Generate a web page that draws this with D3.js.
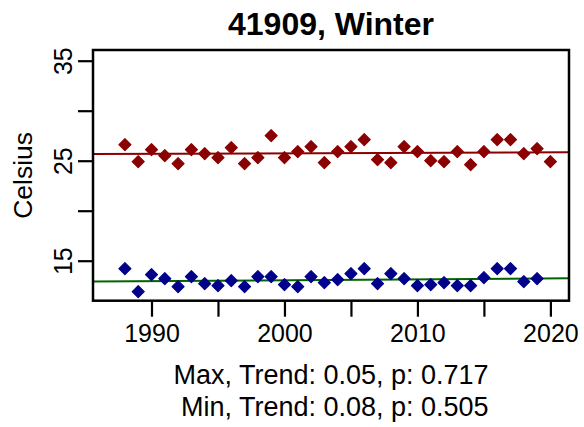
<!DOCTYPE html>
<html>
<head>
<meta charset="utf-8">
<script src="https://cdn.jsdelivr.net/npm/d3@7"></script>
<style>
  body { margin: 0; background: #fff; }
  text { font-family: "Liberation Sans", Arial, sans-serif; }
</style>
</head>
<body>
<svg id="chart"></svg>
<script>
const years = d3.range(1988, 2021);

// winter max temperature, 1988-2020
const maxTemp = [26.6, 24.9, 26.1, 25.5, 24.7, 26.1, 25.7, 25.3, 26.3, 24.7,
  25.3, 27.5, 25.3, 25.9, 26.4, 24.8, 25.9, 26.4, 27.1, 25.1,
  24.8, 26.4, 25.9, 25.0, 24.9, 25.9, 24.6, 25.9, 27.1, 27.1,
  25.7, 26.2, 24.9];

// winter min temperature, 1988-2019 (no 2020 value)
const minTemp = [14.2, 11.9, 13.6, 13.2, 12.4, 13.4, 12.7, 12.5, 13.0, 12.4,
  13.4, 13.4, 12.6, 12.4, 13.4, 12.8, 13.1, 13.7, 14.2, 12.7,
  13.7, 13.2, 12.5, 12.6, 12.8, 12.5, 12.5, 13.3, 14.2, 14.2,
  12.9, 13.2];

const xTicks = d3.range(1990, 2021, 5);
const xLabels = [1990, 2000, 2010, 2020];
const yTicks = [15, 20, 25, 30, 35];
const yLabels = [15, 25, 35];

const title = "41909, Winter";
const yTitle = "Celsius";
const notes = ["Max, Trend: 0.05, p: 0.717", " Min, Trend: 0.08, p: 0.505"];

const width = 584;
const height = 427;
const m = { left: 93, right: 569, top: 50, bottom: 300.7 };

const svg = d3.select('#chart')
    .attr('width', width)
    .attr('height', height);

const x = d3.scaleLinear().domain([1985.6, 2021.4]).range([m.left, m.right]);
const y = d3.scaleLinear().domain([11.0, 36.07]).range([m.bottom, m.top]);

// least squares fit for the trend lines
function fit(xs, ys) {
  const mx = d3.mean(xs), my = d3.mean(ys);
  let sxy = 0, sxx = 0;
  xs.forEach((v, i) => { sxy += (v - mx) * (ys[i] - my); sxx += (v - mx) * (v - mx); });
  const b = sxy / sxx;
  return t => my + b * (t - mx);
}

svg.append('clipPath').attr('id', 'clip')
  .append('rect')
    .attr('x', m.left).attr('y', m.top)
    .attr('width', m.right - m.left).attr('height', m.bottom - m.top);

const series = [
  { values: maxTemp, pt: '#8b0000', line: '#8b0000' },
  { values: minTemp, pt: '#00008b', line: '#006400' }
];

const plot = svg.append('g').attr('clip-path', 'url(#clip)');

const r = 6;
const diamond = `M0,${-r}L${r},0L0,${r}L${-r},0Z`;

series.forEach(s => {
  const yrs = years.slice(0, s.values.length);
  const f = fit(yrs, s.values);
  const dom = x.domain();
  plot.append('line')
    .attr('x1', x(dom[0])).attr('y1', y(f(dom[0])))
    .attr('x2', x(dom[1])).attr('y2', y(f(dom[1])))
    .attr('stroke', s.line)
    .attr('stroke-width', 2);

  plot.selectAll(null)
    .data(s.values)
    .enter().append('path')
      .attr('d', diamond)
      .attr('fill', s.pt)
      .attr('stroke', s.pt)
      .attr('stroke-width', 1.2)
      .attr('stroke-linejoin', 'round')
      .attr('transform', (d, i) => 'translate(' + x(yrs[i]) + ',' + y(d) + ')');
});

// box
svg.append('rect')
  .attr('x', m.left).attr('y', m.top)
  .attr('width', m.right - m.left).attr('height', m.bottom - m.top)
  .attr('fill', 'none')
  .attr('stroke', '#000')
  .attr('stroke-width', 2.5);

// x axis
const xAxis = svg.append('g')
  .attr('transform', 'translate(0,' + m.bottom + ')')
  .call(d3.axisBottom(x).tickValues(xTicks).tickSize(16)
    .tickFormat(d => xLabels.includes(d) ? d : ''));
xAxis.select('.domain').remove();
xAxis.selectAll('line').attr('stroke-width', 2.2);
xAxis.selectAll('text')
  .attr('y', 41.3).attr('dy', 0)
  .attr('font-size', 25)
  .attr('font-family', '"Liberation Sans", Arial, sans-serif')
  .attr('fill', '#000');

// y axis
const yAxis = svg.append('g')
  .attr('transform', 'translate(' + m.left + ',0)')
  .call(d3.axisLeft(y).tickValues(yTicks).tickSize(15)
    .tickFormat(d => yLabels.includes(d) ? d : ''));
yAxis.select('.domain').remove();
yAxis.selectAll('line').attr('stroke-width', 2.2);
yAxis.selectAll('text')
  .attr('transform', 'rotate(-90)')
  .attr('x', 0).attr('y', -21).attr('dy', 0)
  .attr('text-anchor', 'middle')
  .attr('font-size', 25)
  .attr('font-family', '"Liberation Sans", Arial, sans-serif')
  .attr('fill', '#000');

// title
svg.append('text')
  .attr('x', (m.left + m.right) / 2)
  .attr('y', 35)
  .attr('text-anchor', 'middle')
  .attr('font-size', 32)
  .attr('font-weight', 'bold')
  .text(title);

// y title
svg.append('text')
  .attr('transform', 'translate(31.5,' + (m.top + m.bottom) / 2 + ') rotate(-90)')
  .attr('text-anchor', 'middle')
  .attr('font-size', 26.5)
  .text(yTitle);

// notes under the axis
svg.selectAll('.note')
  .data(notes)
  .enter().append('text')
    .attr('class', 'note')
    .attr('x', (m.left + m.right) / 2)
    .attr('y', (d, i) => 384 + i * 32)
    .attr('text-anchor', 'middle')
    .attr('font-size', 27)
    .style('white-space', 'pre')
    .text(d => d);
</script>
</body>
</html>
